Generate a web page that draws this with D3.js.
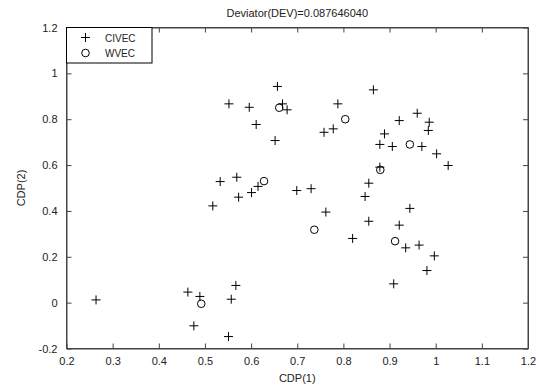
<!DOCTYPE html>
<html>
<head>
<meta charset="utf-8">
<script src="https://cdn.jsdelivr.net/npm/d3@7"></script>
<style>
  html, body { margin: 0; padding: 0; background: #fff; }
  svg { display: block; font-family: Arial, "Liberation Sans", sans-serif; }
</style>
</head>
<body>
<svg id="chart" width="540" height="385"></svg>
<script>
const titleText = "Deviator(DEV)=0.087646040";
const xLabel = "CDP(1)";
const yLabel = "CDP(2)";
const xTicks = [0.2, 0.3, 0.4, 0.5, 0.6, 0.7, 0.8, 0.9, 1, 1.1, 1.2];
const yTicks = [-0.2, 0, 0.2, 0.4, 0.6, 0.8, 1, 1.2];
const seriesNames = ["CIVEC", "WVEC"];

const civecX = [0.657, 0.552, 0.596, 0.668, 0.678, 0.611, 0.652, 0.788, 0.758, 0.778,
  0.865, 0.960, 0.921, 0.986, 0.984, 0.889, 0.879, 0.906, 0.970, 1.002, 1.027, 0.879,
  0.855, 0.847, 0.944, 0.855, 0.921, 0.820, 0.935, 0.964, 0.997, 0.981, 0.909,
  0.533, 0.569, 0.615, 0.601, 0.573, 0.517, 0.699, 0.730, 0.762,
  0.567, 0.557, 0.264, 0.463, 0.489, 0.476, 0.551];
const civecY = [0.943, 0.867, 0.852, 0.867, 0.841, 0.777, 0.707, 0.867, 0.743, 0.758,
  0.928, 0.826, 0.794, 0.787, 0.751, 0.736, 0.690, 0.681, 0.681, 0.649, 0.598, 0.591,
  0.521, 0.463, 0.411, 0.355, 0.338, 0.280, 0.239, 0.251, 0.204, 0.140, 0.082,
  0.528, 0.547, 0.507, 0.480, 0.460, 0.422, 0.489, 0.497, 0.395,
  0.075, 0.015, 0.012, 0.046, 0.027, -0.101, -0.148];

const wvecX = [0.661, 0.804, 0.944, 0.880, 0.628, 0.737, 0.912, 0.492];
const wvecY = [0.850, 0.800, 0.690, 0.579, 0.530, 0.318, 0.268, -0.005];

const svg = d3.select("#chart");
const L = 66.5, R = 528, T = 27.5, B = 348.5;
const x = d3.scaleLinear().domain([0.2, 1.2]).range([L, R]);
const y = d3.scaleLinear().domain([-0.2, 1.2]).range([B, T]);
const axisColor = "#444";
const fs = 11;

// plot box
svg.append("rect").attr("x", L).attr("y", T).attr("width", R - L).attr("height", B - T)
  .attr("fill", "#fff").attr("stroke", axisColor).attr("stroke-width", 1);

// axes with inward ticks
const tickLen = 5;
const fmt = d => String(+d.toFixed(2));
const xb = svg.append("g").attr("transform", `translate(0,${B})`)
  .call(d3.axisBottom(x).tickValues(xTicks).tickFormat(fmt).tickSizeInner(-tickLen).tickSizeOuter(0).tickPadding(9));
const xt = svg.append("g").attr("transform", `translate(0,${T})`)
  .call(d3.axisTop(x).tickValues(xTicks).tickFormat("").tickSizeInner(-tickLen).tickSizeOuter(0));
const yl = svg.append("g").attr("transform", `translate(${L},0)`)
  .call(d3.axisLeft(y).tickValues(yTicks).tickFormat(fmt).tickSizeInner(-tickLen).tickSizeOuter(0).tickPadding(9));
const yr = svg.append("g").attr("transform", `translate(${R},0)`)
  .call(d3.axisRight(y).tickValues(yTicks).tickFormat("").tickSizeInner(-tickLen).tickSizeOuter(0));
[xb, xt, yl, yr].forEach(g => {
  g.select(".domain").attr("stroke", axisColor);
  g.selectAll(".tick line").attr("stroke", axisColor);
  g.selectAll("text").attr("fill", "#222").style("font-size", fs + "px")
    .style("font-family", "Arial, 'Liberation Sans', sans-serif");
});
xb.selectAll("text").attr("dy", "0.71em");

// title and labels
svg.append("text").attr("x", (L + R) / 2).attr("y", 17).attr("text-anchor", "middle")
  .attr("fill", "#222").style("font-size", fs + "px").text(titleText);
svg.append("text").attr("x", (L + R) / 2).attr("y", 382).attr("text-anchor", "middle")
  .attr("fill", "#222").style("font-size", fs + "px").text(xLabel);
svg.append("text").attr("transform", `translate(25,${(T + B) / 2}) rotate(-90)`)
  .attr("text-anchor", "middle").attr("fill", "#222").style("font-size", fs + "px").text(yLabel);

// markers
const plusPath = (cx, cy, s) => `M${cx - s},${cy}H${cx + s}M${cx},${cy - s}V${cy + s}`;
const civec = civecX.map((v, i) => ({ x: v, y: civecY[i] }));
const wvec = wvecX.map((v, i) => ({ x: v, y: wvecY[i] }));

svg.append("g").selectAll("path").data(civec).join("path")
  .attr("d", d => plusPath(x(d.x), y(d.y), 4.5))
  .attr("stroke", "#000").attr("stroke-width", 1).attr("fill", "none");
svg.append("g").selectAll("circle").data(wvec).join("circle")
  .attr("cx", d => x(d.x)).attr("cy", d => y(d.y)).attr("r", 3.8)
  .attr("stroke", "#000").attr("stroke-width", 1).attr("fill", "none");

// legend
const lg = svg.append("g");
lg.append("rect").attr("x", L).attr("y", T).attr("width", 152 - L).attr("height", 63 - T)
  .attr("fill", "#fff").attr("stroke", "#000").attr("stroke-width", 1);
lg.append("path").attr("d", plusPath(85.5, 37.5, 4.5)).attr("stroke", "#000").attr("fill", "none");
lg.append("circle").attr("cx", 85.5).attr("cy", 53).attr("r", 3.8).attr("stroke", "#000").attr("fill", "none");
lg.selectAll("text.lt").data(seriesNames).join("text").attr("class", "lt")
  .attr("x", 105).attr("y", (d, i) => i === 0 ? 41.5 : 56.5)
  .attr("fill", "#222").style("font-size", "10px").text(d => d);
</script>
</body>
</html>
